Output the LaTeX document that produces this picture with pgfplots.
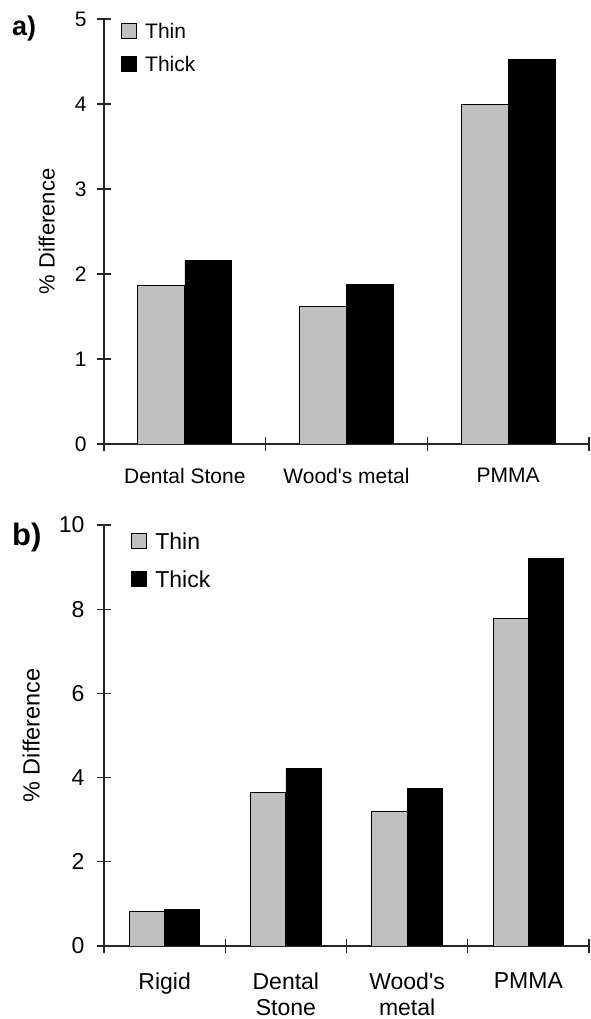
\documentclass[border=0pt]{standalone}
\usepackage{fontspec}
\setmainfont{Liberation Sans}[Ligatures=TeXOff]
\usepackage{pgfplots}
\pgfplotsset{compat=1.18}
\definecolor{thingray}{HTML}{C0C0C0}
\begin{document}
\begin{tikzpicture}[x=1pt,y=1pt]
\useasboundingbox (0,0) rectangle (590,1019);
\pgfplotsset{
  panel/.style={
    scale only axis, width=485pt,
    xmin=0, ymin=0,
    axis x line=bottom, axis y line=left,
    axis line style={-, line width=1.1pt, black!85},
    tick align=center, major tick length=14pt,
    tick style={line width=1.1pt, black!85},
    /pgf/number format/assume math mode=true,
    xticklabels={},
    extra x tick style={major tick length=0pt, tick style={draw=none}},
    extra x tick style={xticklabel style={align=center}},
    legend image code/.code={\draw[#1] (0pt,-7.5pt) rectangle (15pt,7.5pt);},
    legend cell align=left,
  },
  thinbar/.style={ybar, bar width=0.29, bar shift=-0.146, fill=thingray, draw=black, line width=0.9pt},
  thickbar/.style={ybar, bar width=0.29, bar shift=0.146, fill=black, draw=black, line width=0.9pt},
}
% ---------- panel a ----------
\begin{axis}[panel,
  at={(104pt,575pt)}, anchor=south west,
  height=425pt, xmax=3, ymax=5,
  xtick={0,1,2,3}, ytick={0,1,2,3,4,5},
  extra x ticks={0.5,1.5,2.5},
  extra x tick labels={Dental Stone, Wood's metal, PMMA},
  xticklabel style={font=\fontsize{21}{25}\selectfont, yshift=-21pt},
  yticklabel style={font=\fontsize{21}{25}\selectfont, xshift=-7pt},
  ylabel={\% Difference},
  every axis y label/.style={at={(axis description cs:-0.118,0.5)}, rotate=90, anchor=center, font=\fontsize{22}{26}\selectfont},
  legend style={draw=none, fill=none, font=\fontsize{21}{25}\selectfont,
    at={(axis description cs:0.029,1.0)}, anchor=north west,
    nodes={inner sep=2pt, text height=15pt, text depth=0pt}, row sep=14pt, column sep=6pt},
]
\addplot[thinbar] coordinates {(0.5,1.87) (1.5,1.62) (2.5,3.99)};
\addplot[thickbar] coordinates {(0.5,2.16) (1.5,1.88) (2.5,4.52)};
\legend{Thin, Thick}
\end{axis}
\node[anchor=west, font=\bfseries\fontsize{27}{30}\selectfont, inner sep=0pt] at (12,990) {a)};
% ---------- panel b ----------
\begin{axis}[panel,
  at={(104pt,73pt)}, anchor=south west,
  height=421pt, xmax=4, ymax=10,
  xtick={0,1,2,3,4}, ytick={0,2,4,6,8,10},
  extra x ticks={0.5,1.5,2.5,3.5},
  extra x tick labels={Rigid, {Dental\\Stone}, {Wood's\\metal}, PMMA},
  xticklabel style={font=\fontsize{23}{26}\selectfont, yshift=-23pt, align=center},
  yticklabel style={font=\fontsize{23}{27}\selectfont, xshift=-9pt},
  ylabel={\% Difference},
  every axis y label/.style={at={(axis description cs:-0.150,0.5)}, rotate=90, anchor=center, font=\fontsize{23.5}{27}\selectfont},
  legend style={draw=none, fill=none, font=\fontsize{23}{27}\selectfont,
    at={(axis description cs:0.05,0.99)}, anchor=north west,
    nodes={inner sep=2pt, text height=16pt, text depth=0pt}, row sep=18pt, column sep=6pt},
]
\addplot[thinbar] coordinates {(0.5,0.81) (1.5,3.64) (2.5,3.19) (3.5,7.79)};
\addplot[thickbar] coordinates {(0.5,0.86) (1.5,4.21) (2.5,3.74) (3.5,9.21)};
\legend{Thin, Thick}
\end{axis}
\node[anchor=west, font=\bfseries\fontsize{31}{34}\selectfont, inner sep=0pt] at (12,482) {b)};
\end{tikzpicture}
\end{document}
